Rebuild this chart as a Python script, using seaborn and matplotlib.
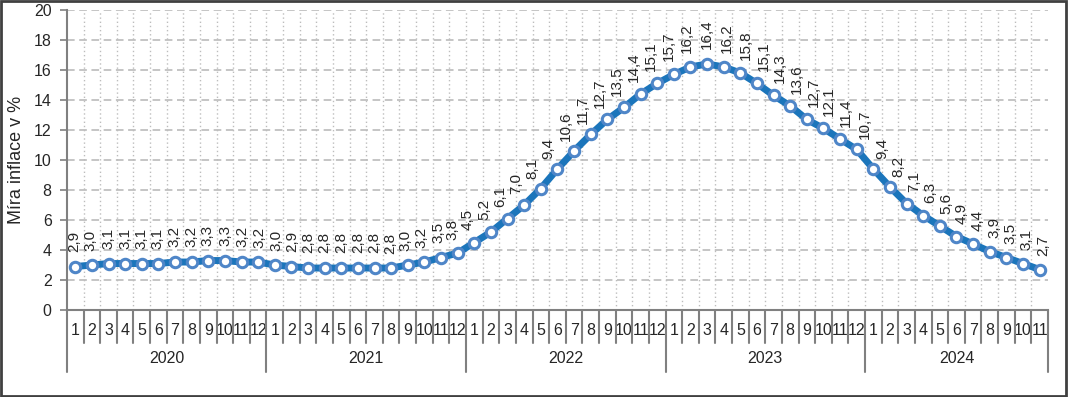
import numpy as np
import pandas as pd
import matplotlib
matplotlib.use("Agg")
import matplotlib.pyplot as plt
import matplotlib.transforms as mtransforms
from matplotlib.patches import Rectangle
import seaborn as sns

# data
years = ["2020", "2021", "2022", "2023", "2024"]
months_per_year = [12, 12, 12, 12, 11]
infl_2020 = [2.9, 3.0, 3.1, 3.1, 3.1, 3.1, 3.2, 3.2, 3.3, 3.3, 3.2, 3.2]
infl_2021 = [3.0, 2.9, 2.8, 2.8, 2.8, 2.8, 2.8, 2.8, 3.0, 3.2, 3.5, 3.8]
infl_2022 = [4.5, 5.2, 6.1, 7.0, 8.1, 9.4, 10.6, 11.7, 12.7, 13.5, 14.4, 15.1]
infl_2023 = [15.7, 16.2, 16.4, 16.2, 15.8, 15.1, 14.3, 13.6, 12.7, 12.1, 11.4, 10.7]
infl_2024 = [9.4, 8.2, 7.1, 6.3, 5.6, 4.9, 4.4, 3.9, 3.5, 3.1, 2.7]

values = infl_2020 + infl_2021 + infl_2022 + infl_2023 + infl_2024
month_labels = [str(m) for n in months_per_year for m in range(1, n + 1)]
df = pd.DataFrame({"idx": np.arange(len(values)), "infl": values})

sns.set_theme(style="white")
plt.rcParams['font.family'] = ['Liberation Sans', 'DejaVu Sans']

fig = plt.figure(figsize=(10.68, 3.97), dpi=100)
ax = fig.add_axes([0.0627, 0.219, 0.9185, 0.756])

line_col = "#1b75bb"
sns.lineplot(data=df, x="idx", y="infl", ax=ax, color=line_col, linewidth=5,
             marker="o", markersize=7.5, markerfacecolor="white",
             markeredgecolor="#4f86c8", markeredgewidth=2.2, zorder=3)

n = len(values)
ax.set_xlim(-0.5, n - 0.5)
ax.set_ylim(0, 20)
ax.set_yticks(np.arange(0, 21, 2))
ax.tick_params(axis="y", labelsize=11.5, length=5, width=1.2, color="#808080",
               direction="out", left=True, pad=6)
ax.set_ylabel("Míra inflace v %", fontsize=13, labelpad=6)

# gridlines
for yv in range(2, 21, 2):
    ax.axhline(yv, color="#b5b5b5", linestyle=(0, (5, 3)), linewidth=1.1, zorder=0)
for xv in np.arange(0.5, n - 0.5, 1):
    ax.axvline(xv, color="#bdbdbd", linestyle=(0, (1, 2)), linewidth=1, zorder=0)

for s in ["top", "right"]:
    ax.spines[s].set_visible(False)
for s in ["left", "bottom"]:
    ax.spines[s].set_color("#808080")
    ax.spines[s].set_linewidth(1.5)

# month labels and separators
ax.set_xticks(df["idx"])
ax.set_xticklabels(month_labels, fontsize=11.5)
ax.tick_params(axis="x", length=0, pad=9)
ax.set_xlabel("")
trans = mtransforms.blended_transform_factory(ax.transData, ax.transAxes)
bounds = np.concatenate([[0], np.cumsum(months_per_year)])
year_edges = set(bounds.tolist())
for b in range(n + 1):
    low = -0.205 if b in year_edges else -0.11
    ax.plot([b - 0.5, b - 0.5], [0, low], transform=trans, color="#808080",
            linewidth=1.5, clip_on=False)
for i, yr in enumerate(years):
    mid = (bounds[i] + bounds[i + 1]) / 2 - 0.5
    ax.text(mid, -0.16, yr, transform=trans, ha="center", va="center", fontsize=11.5)

# data labels, pushed away from the line (normal to local slope)
pts = ax.transData.transform(np.column_stack([df["idx"], df["infl"]]))
dist = 10.5  # points
for i, v in enumerate(values):
    a = pts[max(i - 1, 0)]
    b = pts[min(i + 1, n - 1)]
    d = b - a
    d = d / np.hypot(*d)
    nx, ny = -d[1], d[0]
    if ny < 0:
        nx, ny = -nx, -ny
    ax.annotate(f"{v:.1f}".replace(".", ","), (i, v), textcoords="offset points",
                xytext=(nx * dist * 0.8, ny * dist), ha="center", va="bottom",
                rotation=90, fontsize=11)

fig.patches.append(Rectangle((0.001, 0.002), 0.997, 0.995, transform=fig.transFigure,
                             fill=False, edgecolor="#404040", linewidth=2))

fig.savefig("out.png", dpi=100)
